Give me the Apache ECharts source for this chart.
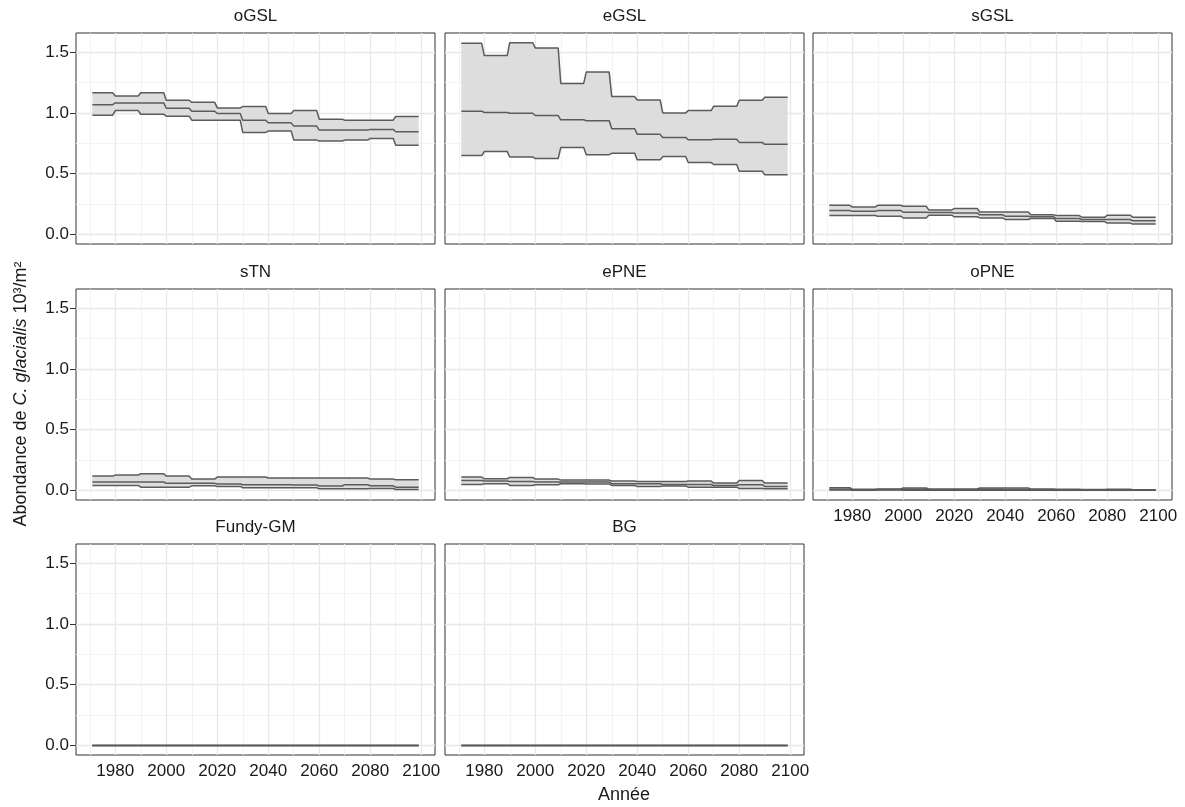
<!DOCTYPE html>
<html>
<head>
<meta charset="utf-8">
<script src="https://cdn.jsdelivr.net/npm/echarts@6/dist/echarts.min.js"></script>
<style>
  html, body { margin: 0; padding: 0; background: #ffffff; }
  #chart { width: 1185px; height: 807px; }
</style>
</head>
<body>
<div id="chart"></div>
<script>
// Regions, one panel each
const regions = ['oGSL', 'eGSL', 'sGSL', 'sTN', 'ePNE', 'oPNE', 'Fundy-GM', 'BG'];

// Decades of the projection (first decade starts in 1971, last ends in 2099)
const decades = [1970, 1980, 1990, 2000, 2010, 2020, 2030, 2040, 2050, 2060, 2070, 2080, 2090];
const firstYear = 1971;
const lastYear = 2099;

// Axis ticks
const xTicks = [1980, 2000, 2020, 2040, 2060, 2080, 2100];
const xMinorTicks = [1970, 1990, 2010, 2030, 2050, 2070, 2090];
const yTicks = [0, 0.5, 1.0, 1.5];
const yMinorTicks = [0.25, 0.75, 1.25];

// Decadal abundance (10^3 / m^2): median, lower and upper bounds
const oGSL_med  = [1.069, 1.083, 1.083, 1.039, 1.015, 0.996, 0.941, 0.919, 0.892, 0.859, 0.859, 0.865, 0.846];
const oGSL_low  = [0.982, 1.020, 0.990, 0.974, 0.941, 0.941, 0.840, 0.851, 0.777, 0.769, 0.777, 0.791, 0.734];
const oGSL_high = [1.167, 1.140, 1.167, 1.105, 1.088, 1.042, 1.053, 0.996, 1.020, 0.949, 0.941, 0.941, 0.971];

const eGSL_med  = [1.015, 1.004, 0.998, 0.979, 0.944, 0.936, 0.870, 0.824, 0.799, 0.780, 0.783, 0.758, 0.742];
const eGSL_low  = [0.649, 0.682, 0.638, 0.625, 0.715, 0.657, 0.668, 0.614, 0.641, 0.592, 0.576, 0.521, 0.491];
const eGSL_high = [1.574, 1.473, 1.579, 1.536, 1.244, 1.337, 1.135, 1.107, 1.001, 1.020, 1.056, 1.105, 1.129];

const sGSL_med  = [0.196, 0.190, 0.196, 0.183, 0.180, 0.177, 0.161, 0.150, 0.145, 0.131, 0.123, 0.123, 0.112];
const sGSL_low  = [0.155, 0.155, 0.150, 0.136, 0.158, 0.145, 0.136, 0.123, 0.131, 0.109, 0.106, 0.093, 0.085];
const sGSL_high = [0.240, 0.226, 0.240, 0.232, 0.202, 0.213, 0.185, 0.185, 0.161, 0.155, 0.142, 0.158, 0.142];

const sTN_med  = [0.069, 0.069, 0.069, 0.058, 0.058, 0.052, 0.047, 0.047, 0.044, 0.036, 0.047, 0.038, 0.027];
const sTN_low  = [0.041, 0.041, 0.027, 0.027, 0.038, 0.033, 0.022, 0.022, 0.022, 0.014, 0.014, 0.016, 0.008];
const sTN_high = [0.118, 0.126, 0.137, 0.118, 0.093, 0.110, 0.110, 0.102, 0.102, 0.102, 0.102, 0.093, 0.088];

const ePNE_med  = [0.082, 0.077, 0.074, 0.069, 0.069, 0.069, 0.055, 0.055, 0.049, 0.049, 0.041, 0.047, 0.033];
const ePNE_low  = [0.049, 0.055, 0.041, 0.047, 0.055, 0.052, 0.041, 0.033, 0.036, 0.027, 0.027, 0.016, 0.014];
const ePNE_high = [0.110, 0.096, 0.107, 0.093, 0.085, 0.085, 0.077, 0.074, 0.074, 0.077, 0.060, 0.082, 0.060];

const oPNE_med  = [0.010, 0.006, 0.007, 0.009, 0.006, 0.006, 0.009, 0.008, 0.006, 0.005, 0.004, 0.005, 0.003];
const oPNE_low  = [0.003, 0.002, 0.003, 0.002, 0.002, 0.002, 0.002, 0.002, 0.002, 0.001, 0.001, 0.001, 0.001];
const oPNE_high = [0.022, 0.010, 0.012, 0.020, 0.012, 0.012, 0.020, 0.020, 0.012, 0.010, 0.007, 0.010, 0.006];

const FundyGM_med  = [0, 0, 0, 0, 0, 0, 0, 0, 0, 0, 0, 0, 0];
const FundyGM_low  = [0, 0, 0, 0, 0, 0, 0, 0, 0, 0, 0, 0, 0];
const FundyGM_high = [0, 0, 0, 0, 0, 0, 0, 0, 0, 0, 0, 0, 0];

const BG_med  = [0, 0, 0, 0, 0, 0, 0, 0, 0, 0, 0, 0, 0];
const BG_low  = [0, 0, 0, 0, 0, 0, 0, 0, 0, 0, 0, 0, 0];
const BG_high = [0, 0, 0, 0, 0, 0, 0, 0, 0, 0, 0, 0, 0];

const seriesByRegion = [
  [oGSL_med, oGSL_low, oGSL_high],
  [eGSL_med, eGSL_low, eGSL_high],
  [sGSL_med, sGSL_low, sGSL_high],
  [sTN_med, sTN_low, sTN_high],
  [ePNE_med, ePNE_low, ePNE_high],
  [oPNE_med, oPNE_low, oPNE_high],
  [FundyGM_med, FundyGM_low, FundyGM_high],
  [BG_med, BG_low, BG_high]
];

// ---- layout ----
const FONT = '"Liberation Sans", Arial, sans-serif';
const colLeft = [76, 445, 813];
const rowTop = [33, 289, 544];
const panelW = 359;
const panelH = 211;
const X_MIN = 1964.6, X_MAX = 2105.4;
const Y_MIN = -0.079, Y_MAX = 1.659;
const LINE = '#5b5b5b';
const BAND = '#dddddd';
const TEXT = '#1a1a1a';
const MAJOR = '#e8e8e8';
const MINOR = '#f3f3f3';

// Each decade value is held flat from its first to its last year
function stepPoints(vals) {
  const pts = [];
  vals.forEach(function (v, k) {
    const start = k === 0 ? firstYear : decades[k];
    const end = k === vals.length - 1 ? lastYear : decades[k] + 9;
    pts.push([start, v], [end, v]);
  });
  return pts;
}

// grid lines as mark lines on the panel's own axes
function gridLines() {
  const d = [];
  const minor = { color: MINOR, width: 1, type: 'solid' };
  const major = { color: MAJOR, width: 1.3, type: 'solid' };
  xMinorTicks.forEach(function (v) { d.push({ xAxis: v, lineStyle: minor }); });
  yMinorTicks.forEach(function (v) { d.push({ yAxis: v, lineStyle: minor }); });
  xTicks.forEach(function (v) { d.push({ xAxis: v, lineStyle: major }); });
  yTicks.forEach(function (v) { d.push({ yAxis: v, lineStyle: major }); });
  return d;
}

const grid = [], xAxis = [], yAxis = [], series = [], graphic = [];

regions.forEach(function (name, i) {
  const row = Math.floor(i / 3), col = i % 3;
  const left = colLeft[col], top = rowTop[row];
  const showX = (i === 5 || i === 6 || i === 7);
  const showY = (col === 0);

  grid.push({
    left: left, top: top, width: panelW, height: panelH,
    show: true, borderColor: '#333333', borderWidth: 1, backgroundColor: 'transparent'
  });

  xAxis.push({
    type: 'value', gridIndex: i, min: X_MIN, max: X_MAX, position: 'bottom',
    axisLine: { show: false },
    axisTick: { show: showX, length: 6, lineStyle: { color: '#333333', width: 1 }, customValues: xTicks },
    axisLabel: {
      show: showX, customValues: xTicks, color: TEXT, fontSize: 17, fontFamily: FONT, margin: 8,
      formatter: function (v) { return String(v); }
    },
    splitLine: { show: false }
  });
  yAxis.push({
    type: 'value', gridIndex: i, min: Y_MIN, max: Y_MAX, position: 'left',
    axisLine: { show: false },
    axisTick: { show: showY, length: 6, lineStyle: { color: '#333333', width: 1 }, customValues: yTicks },
    axisLabel: {
      show: showY, customValues: yTicks, color: TEXT, fontSize: 17, fontFamily: FONT, margin: 7,
      formatter: function (v) { return v.toFixed(1); }
    },
    splitLine: { show: false }
  });

  // background grid
  series.push({
    type: 'line', name: name + ' grid', xAxisIndex: i, yAxisIndex: i,
    data: [], silent: true, z: 1,
    markLine: {
      silent: true, symbol: 'none', animation: false, z: 1,
      label: { show: false }, emphasis: { disabled: true },
      lineStyle: { type: 'solid' },
      data: gridLines()
    }
  });

  const med = stepPoints(seriesByRegion[i][0]);
  const low = stepPoints(seriesByRegion[i][1]);
  const high = stepPoints(seriesByRegion[i][2]);
  const bandRows = low.map(function (p, k) { return [p[0], p[1], high[k][1]]; });

  // ribbon between lower and upper bounds
  series.push({
    type: 'custom', name: name + ' band', xAxisIndex: i, yAxisIndex: i,
    data: bandRows, encode: { x: 0, y: [1, 2] }, silent: true, z: 2,
    renderItem: function (params, api) {
      if (params.dataIndexInside !== 0) return null;
      const n = params.dataInsideLength;
      const upper = [], lower = [];
      for (let k = 0; k < n; k++) {
        upper.push(api.coord([api.value(0, k), api.value(2, k)]));
        lower.push(api.coord([api.value(0, k), api.value(1, k)]));
      }
      return { type: 'polygon', shape: { points: upper.concat(lower.reverse()) }, style: { fill: BAND } };
    }
  });

  [low, high, med].forEach(function (pts, k) {
    series.push({
      type: 'line', name: name + ['-low', '-high', '-med'][k], xAxisIndex: i, yAxisIndex: i,
      data: pts, showSymbol: false, symbol: 'none', silent: true, z: 3,
      lineStyle: { color: LINE, width: 1.5 }
    });
  });

  // panel title
  graphic.push({
    type: 'text', x: left + panelW / 2, y: top - 17,
    style: { text: name, fill: TEXT, font: '17px ' + FONT, textAlign: 'center', textVerticalAlign: 'middle' }
  });
});

// axis titles
graphic.push({
  type: 'text', x: (colLeft[0] + colLeft[2] + panelW) / 2, y: 795,
  style: { text: 'Année', fill: TEXT, font: '18px ' + FONT, textAlign: 'center', textVerticalAlign: 'middle' }
});
graphic.push({
  type: 'text', x: 21, y: (rowTop[0] + rowTop[2] + panelH) / 2, rotation: Math.PI / 2,
  style: {
    text: '{a|Abondance de }{i|C. glacialis}{a| 10³/m²}',
    textAlign: 'center', textVerticalAlign: 'middle',
    rich: {
      a: { fill: TEXT, fontSize: 18, fontFamily: FONT },
      i: { fill: TEXT, fontSize: 18, fontFamily: FONT, fontStyle: 'italic' }
    }
  }
});

const chart = echarts.init(document.getElementById('chart'), null, { renderer: 'canvas' });
chart.setOption({
  animation: false,
  backgroundColor: '#ffffff',
  grid: grid, xAxis: xAxis, yAxis: yAxis, series: series, graphic: graphic
});
</script>
</body>
</html>
